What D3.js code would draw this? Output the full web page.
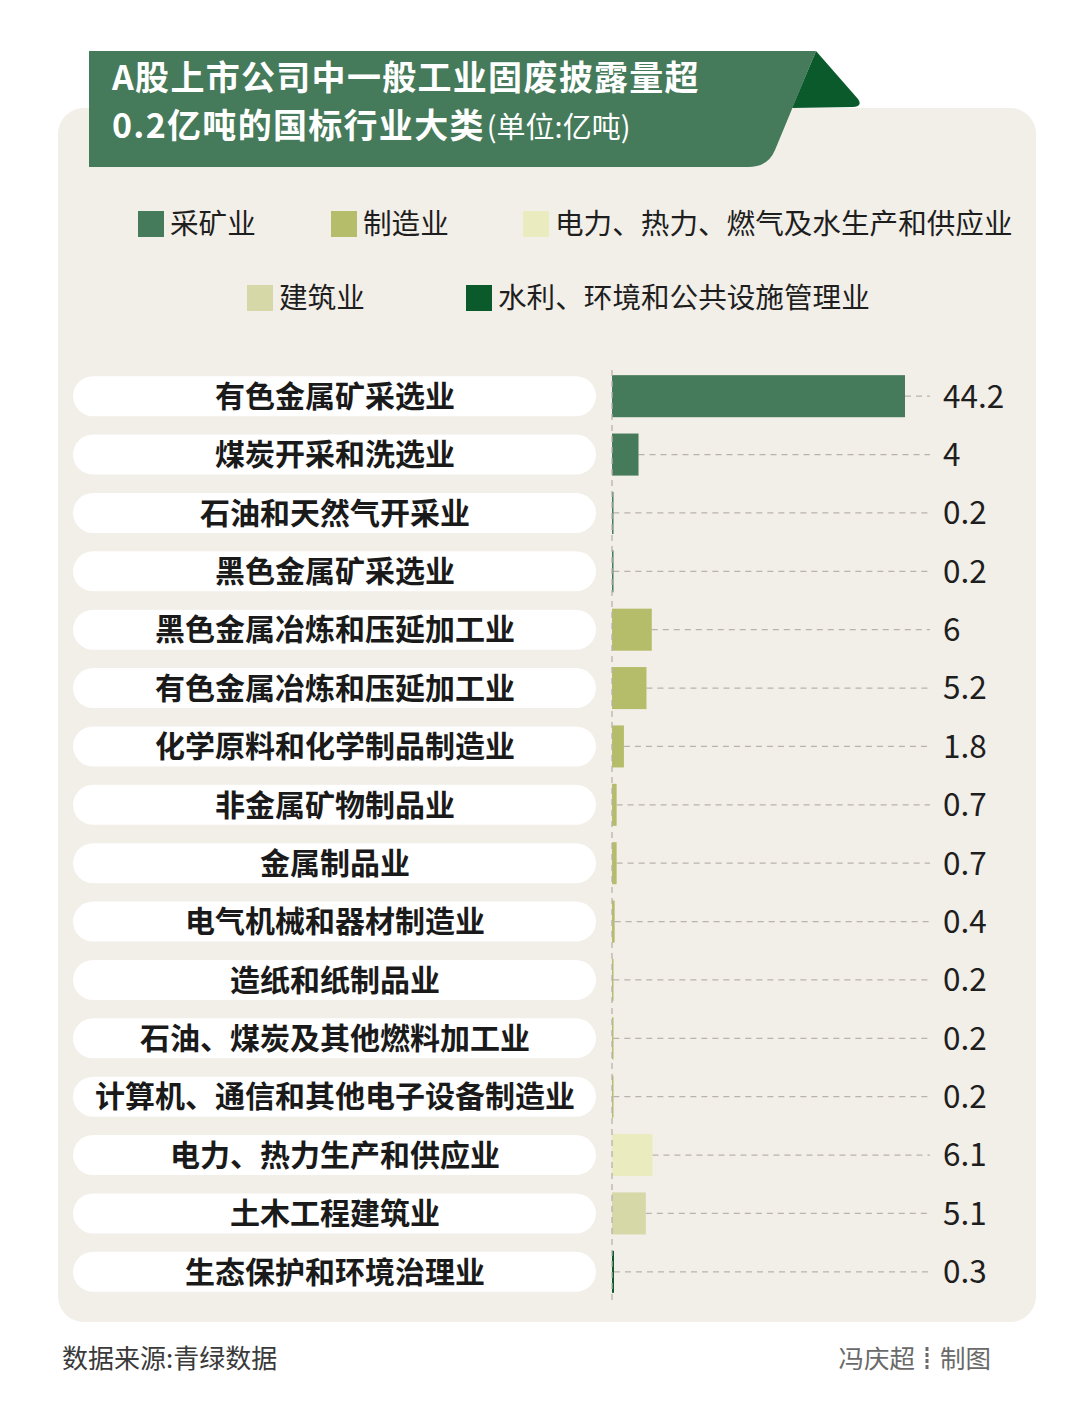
<!DOCTYPE html>
<html>
<head>
<meta charset="utf-8">
<script src="https://cdn.jsdelivr.net/npm/d3@7"></script>
<style>
  body { margin: 0; background: #fff; }
  svg { display: block; font-family: "Noto Sans CJK SC", "Noto Sans", sans-serif; }
</style>
</head>
<body>
<div id="chart"></div>
<script>
// data (unit: 亿吨)
const industries = [
    "有色金属矿采选业", "煤炭开采和洗选业", "石油和天然气开采业", "黑色金属矿采选业",
    "黑色金属冶炼和压延加工业", "有色金属冶炼和压延加工业", "化学原料和化学制品制造业",
    "非金属矿物制品业", "金属制品业", "电气机械和器材制造业", "造纸和纸制品业",
    "石油、煤炭及其他燃料加工业", "计算机、通信和其他电子设备制造业",
    "电力、热力生产和供应业", "土木工程建筑业", "生态保护和环境治理业"
];
const values = [44.2, 4, 0.2, 0.2, 6, 5.2, 1.8, 0.7, 0.7, 0.4, 0.2, 0.2, 0.2, 6.1, 5.1, 0.3];
const sectorOf = [0, 0, 0, 0, 1, 1, 1, 1, 1, 1, 1, 1, 1, 2, 3, 4];
const sectors = ["采矿业", "制造业", "电力、热力、燃气及水生产和供应业", "建筑业", "水利、环境和公共设施管理业"];
const sectorColors = ["#457a5a", "#b5bd6a", "#ebebc0", "#d7d8a8", "#0b5a2c"];

const W = 1080, H = 1402;
const svg = d3.select("#chart").append("svg")
    .attr("width", W)
    .attr("height", H);

// beige panel
svg.append("rect")
    .attr("x", 58).attr("y", 108)
    .attr("width", 978).attr("height", 1214)
    .attr("rx", 26)
    .attr("fill", "#f2eee8");

// title banner: fold triangle + slanted ribbon
svg.append("path")
    .attr("d", "M816,51 L858,99 Q863,106 853,107 L792,108 Z")
    .attr("fill", "#0b5a2c");
svg.append("path")
    .attr("d", "M89,51 L816,51 L775,150 Q768,167 748,167 L89,167 Z")
    .attr("fill", "#457a5a");

// title lines
const title = svg.append("g").attr("fill", "#fff");
title.append("text")
    .attr("x", 112).attr("y", 90)
    .attr("font-size", 34).attr("font-weight", 700)
    .attr("letter-spacing", 1.3)
    .text("A股上市公司中一般工业固废披露量超");
const t2 = title.append("text")
    .attr("x", 112).attr("y", 138);
t2.append("tspan")
    .attr("font-size", 34).attr("font-weight", 700)
    .attr("letter-spacing", 1.3)
    .text("0.2亿吨的国标行业大类");
t2.append("tspan")
    .attr("font-size", 29).attr("font-weight", 400).attr("dx", 2)
    .text("(单位:亿吨)");

// legend
const legendPos = [
    { x: 138, y: 224 }, { x: 331, y: 224 }, { x: 523, y: 224 },
    { x: 247, y: 298 }, { x: 466, y: 298 }
];
const legend = svg.append("g").selectAll("g")
    .data(sectors)
    .join("g")
    .attr("transform", (d, i) => `translate(${legendPos[i].x},${legendPos[i].y})`);
legend.append("rect")
    .attr("x", 0).attr("y", -13)
    .attr("width", 26).attr("height", 26)
    .attr("fill", (d, i) => sectorColors[i]);
legend.append("text")
    .attr("x", 32).attr("y", 0)
    .attr("dy", "0.36em")
    .attr("font-size", 28.6)
    .attr("fill", "#1e1e1e")
    .text(d => d);

// scales
const x0 = 612;
const x = d3.scaleLinear()
    .domain([0, 44.2])
    .range([x0, 905]);
const y = d3.scaleBand()
    .domain(d3.range(industries.length))
    .range([367, 1301])
    .paddingInner(0.28)
    .paddingOuter(0.14);

const rows = svg.append("g").selectAll("g")
    .data(industries)
    .join("g");

// label pills
rows.append("rect")
    .attr("x", 73)
    .attr("y", (d, i) => y(i) + y.bandwidth() / 2 - 20)
    .attr("width", 523).attr("height", 40)
    .attr("rx", 20)
    .attr("fill", "#fff");
rows.append("text")
    .attr("x", 335)
    .attr("y", (d, i) => y(i) + y.bandwidth() / 2)
    .attr("dy", "0.36em")
    .attr("text-anchor", "middle")
    .attr("font-size", 30)
    .attr("font-weight", 700)
    .attr("fill", "#1a1a1a")
    .text(d => d);

// dashed leader lines
rows.append("line")
    .attr("x1", (d, i) => x(values[i]))
    .attr("x2", 930)
    .attr("y1", (d, i) => y(i) + y.bandwidth() / 2)
    .attr("y2", (d, i) => y(i) + y.bandwidth() / 2)
    .attr("stroke", "#b9b3ab")
    .attr("stroke-width", 1.3)
    .attr("stroke-dasharray", "6,5");

// baseline
svg.append("line")
    .attr("x1", x0).attr("x2", x0)
    .attr("y1", 370).attr("y2", 1300)
    .attr("stroke", "#b9b3ab")
    .attr("stroke-width", 1.3)
    .attr("stroke-dasharray", "6,5");

// bars
rows.append("rect")
    .attr("x", x0)
    .attr("y", (d, i) => y(i))
    .attr("width", (d, i) => Math.max(1.5, x(values[i]) - x0))
    .attr("height", y.bandwidth())
    .attr("fill", (d, i) => sectorColors[sectorOf[i]]);

// values
rows.append("text")
    .attr("x", 943)
    .attr("y", (d, i) => y(i) + y.bandwidth() / 2)
    .attr("dy", "0.36em")
    .attr("font-size", 31.5)
    .attr("fill", "#1e1e1e")
    .text((d, i) => values[i]);

// footer
svg.append("text")
    .attr("x", 62).attr("y", 1359)
    .attr("dy", "0.36em")
    .attr("font-size", 26)
    .attr("fill", "#3a3a3a")
    .text("数据来源:青绿数据");
svg.append("text")
    .attr("x", 915).attr("y", 1359)
    .attr("dy", "0.36em")
    .attr("text-anchor", "end")
    .attr("font-size", 25.5)
    .attr("fill", "#6a6a6a")
    .text("冯庆超");
svg.append("line")
    .attr("x1", 927).attr("x2", 927)
    .attr("y1", 1347).attr("y2", 1371)
    .attr("stroke", "#6a6a6a")
    .attr("stroke-width", 3)
    .attr("stroke-dasharray", "4,2");
svg.append("text")
    .attr("x", 940).attr("y", 1359)
    .attr("dy", "0.36em")
    .attr("font-size", 25.5)
    .attr("fill", "#6a6a6a")
    .text("制图");
</script>
</body>
</html>
